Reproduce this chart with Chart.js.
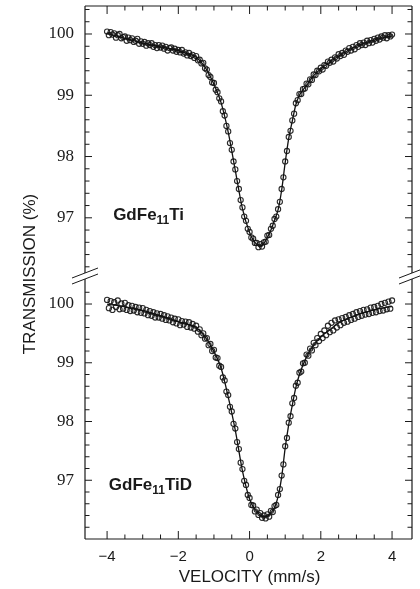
<!DOCTYPE html>
<html><head><meta charset="utf-8">
<script src="https://cdn.jsdelivr.net/npm/chart.js@4.4.1/dist/chart.umd.min.js"></script>
<style>html,body{margin:0;padding:0;background:#fff;}canvas{display:block;}</style>
</head><body>
<canvas id="c" width="420" height="589"></canvas>
<script>
// ---- data ----
const velocity = [
-4,-3.95,-3.9,-3.85,-3.8,-3.75,-3.7,-3.65,-3.6,-3.55,
-3.5,-3.45,-3.4,-3.35,-3.3,-3.25,-3.2,-3.15,-3.1,-3.05,
-3,-2.95,-2.9,-2.85,-2.8,-2.75,-2.7,-2.65,-2.6,-2.55,
-2.5,-2.45,-2.4,-2.35,-2.3,-2.25,-2.2,-2.15,-2.1,-2.05,
-2,-1.95,-1.9,-1.85,-1.8,-1.75,-1.7,-1.65,-1.6,-1.55,
-1.5,-1.45,-1.4,-1.35,-1.3,-1.25,-1.2,-1.15,-1.1,-1.05,
-1,-0.95,-0.9,-0.85,-0.8,-0.75,-0.7,-0.65,-0.6,-0.55,
-0.5,-0.45,-0.4,-0.35,-0.3,-0.25,-0.2,-0.15,-0.1,-0.05,
0,0.05,0.1,0.15,0.2,0.25,0.3,0.35,0.4,0.45,
0.5,0.55,0.6,0.65,0.7,0.75,0.8,0.85,0.9,0.95,
1,1.05,1.1,1.15,1.2,1.25,1.3,1.35,1.4,1.45,
1.5,1.55,1.6,1.65,1.7,1.75,1.8,1.85,1.9,1.95,
2,2.05,2.1,2.15,2.2,2.25,2.3,2.35,2.4,2.45,
2.5,2.55,2.6,2.65,2.7,2.75,2.8,2.85,2.9,2.95,
3,3.05,3.1,3.15,3.2,3.25,3.3,3.35,3.4,3.45,
3.5,3.55,3.6,3.65,3.7,3.75,3.8,3.85,3.9,3.95,4];

const tiTransmission = [
100.04,99.98,100.03,99.99,100.01,99.94,99.98,100.00,99.93,99.95,
99.96,99.89,99.94,99.90,99.93,99.87,99.89,99.92,99.84,99.88,
99.84,99.87,99.81,99.85,99.82,99.85,99.79,99.82,99.77,99.82,
99.78,99.81,99.76,99.79,99.73,99.77,99.78,99.73,99.76,99.71,
99.74,99.70,99.74,99.68,99.70,99.65,99.69,99.64,99.66,99.61,
99.64,99.57,99.58,99.52,99.53,99.44,99.42,99.33,99.30,99.21,
99.20,99.09,99.05,98.95,98.90,98.74,98.67,98.50,98.41,98.22,
98.11,97.92,97.79,97.60,97.47,97.29,97.17,97.02,96.95,96.82,
96.77,96.68,96.66,96.59,96.59,96.52,96.57,96.53,96.60,96.61,
96.71,96.72,96.82,96.87,96.98,97.02,97.14,97.26,97.47,97.66,
97.92,98.09,98.32,98.42,98.59,98.70,98.87,98.92,99.02,99.02,
99.10,99.11,99.19,99.18,99.26,99.25,99.34,99.33,99.40,99.39,
99.45,99.42,99.49,99.48,99.55,99.53,99.58,99.55,99.62,99.60,
99.67,99.64,99.69,99.66,99.73,99.71,99.77,99.73,99.79,99.75,
99.82,99.79,99.85,99.82,99.86,99.82,99.89,99.85,99.90,99.86,
99.92,99.89,99.94,99.91,99.96,99.94,99.98,99.93,99.98,99.96,99.99];

const tidTransmission = [
100.07,99.93,100.05,99.90,100.03,99.95,100.06,99.91,100.01,99.92,
100.02,99.90,99.98,99.88,99.97,99.89,99.95,99.86,99.94,99.85,
99.93,99.84,99.90,99.81,99.88,99.80,99.86,99.77,99.84,99.77,
99.83,99.75,99.81,99.73,99.79,99.72,99.77,99.69,99.75,99.67,
99.74,99.64,99.71,99.65,99.70,99.61,99.69,99.60,99.66,99.58,
99.63,99.53,99.57,99.47,99.50,99.41,99.42,99.30,99.32,99.20,
99.22,99.09,99.08,98.95,98.93,98.75,98.70,98.51,98.45,98.25,
98.17,97.96,97.88,97.65,97.53,97.30,97.19,96.99,96.92,96.75,
96.70,96.58,96.57,96.47,96.50,96.41,96.44,96.36,96.40,96.35,
96.42,96.38,96.48,96.46,96.56,96.58,96.75,96.85,97.08,97.27,
97.58,97.72,97.98,98.09,98.31,98.40,98.61,98.66,98.83,98.85,
98.99,99.00,99.14,99.12,99.24,99.21,99.34,99.30,99.42,99.37,
99.49,99.42,99.55,99.47,99.63,99.52,99.68,99.55,99.72,99.60,
99.74,99.64,99.76,99.68,99.78,99.70,99.81,99.73,99.83,99.75,
99.86,99.78,99.88,99.80,99.90,99.82,99.91,99.83,99.94,99.85,
99.95,99.86,99.97,99.88,100.00,99.89,100.02,99.91,100.04,99.92,100.06];

const fitVelocity = [-4,-3.5,-3,-2.5,-2,-1.75,-1.5,-1.25,-1,-0.8,-0.6,-0.4,-0.2,0,0.1,0.2,0.3,0.4,0.5,0.6,0.7,0.8,0.9,1,1.1,1.2,1.3,1.4,1.6,1.8,2,2.25,2.5,3,3.5,4];
const tiFit  = [100.01,99.93,99.85,99.79,99.73,99.68,99.62,99.46,99.18,98.88,98.40,97.77,97.15,96.76,96.64,96.57,96.54,96.58,96.68,96.80,96.96,97.13,97.45,97.90,98.30,98.58,98.85,99.00,99.16,99.32,99.43,99.54,99.64,99.80,99.90,99.97];
const tidFit = [100.00,99.95,99.89,99.80,99.70,99.66,99.60,99.44,99.19,98.91,98.42,97.85,97.16,96.68,96.55,96.47,96.41,96.38,96.39,96.45,96.53,96.72,97.05,97.55,97.95,98.28,98.58,98.80,99.10,99.30,99.44,99.56,99.68,99.81,99.90,99.96];

const xTickValues = [-4,-2,0,2,4];
const yTickValues = [97,98,99,100];
const panelNames = [['GdFe','11','Ti'],['GdFe','11','TiD']];
const xTitle = 'VELOCITY (mm/s)';
const yTitle = 'TRANSMISSION (%)';

// ---- drawing ----
const pts = (xs, ys) => xs.map((v, i) => ({x: v, y: ys[i]}));
const pointStyle = {
  showLine: false, pointRadius: 2.6, pointBorderWidth: 1.1,
  pointBorderColor: 'rgba(20,20,20,0.9)', pointBackgroundColor: 'rgba(255,255,255,0)'
};
const lineStyle = {
  showLine: true, pointRadius: 0, borderColor: '#111', borderWidth: 1.3,
  cubicInterpolationMode: 'monotone', fill: false
};

const framePlugin = {
  id: 'frame',
  afterDatasetsDraw(chart) {
    const {ctx, chartArea: ca, scales} = chart;
    const xs = scales.x, yt = scales.yTop, yb = scales.yBot;
    const top = ca.top, bot = ca.bottom, L = ca.left, R = ca.right;
    const mid = yt.bottom;
    ctx.save();
    ctx.strokeStyle = '#1a1a1a';
    ctx.lineWidth = 1.2;
    ctx.beginPath();
    ctx.moveTo(L, top); ctx.lineTo(R, top);
    ctx.moveTo(L, bot); ctx.lineTo(R, bot);
    for (const X of [L, R]) {
      ctx.moveTo(X, top); ctx.lineTo(X, mid - 3);
      ctx.moveTo(X, mid + 3); ctx.lineTo(X, bot);
    }
    ctx.stroke();
    // break marks
    ctx.lineWidth = 1;
    ctx.beginPath();
    for (const X of [L, R]) {
      for (const d of [-3, 3]) {
        ctx.moveTo(X - 13, mid + d + 5); ctx.lineTo(X + 13, mid + d - 5);
      }
    }
    ctx.stroke();
    // y ticks (inward, both sides)
    ctx.beginPath();
    for (const s of [yt, yb]) {
      for (let k = Math.ceil(s.min * 5); k <= Math.floor(s.max * 5); k++) {
        const py = s.getPixelForValue(k / 5);
        if (Math.abs(py - mid) < 7 || py < top + 3 || py > bot - 3) continue;
        const len = (k % 5 === 0) ? 7 : 4.5;
        ctx.moveTo(L, py); ctx.lineTo(L + len, py);
        ctx.moveTo(R, py); ctx.lineTo(R - len, py);
      }
    }
    // x ticks (inward, top and bottom)
    for (let k = -8; k <= 8; k++) {
      const px = xs.getPixelForValue(k / 2);
      const len = (k % 4 === 0) ? 8 : 4.5;
      ctx.moveTo(px, bot); ctx.lineTo(px, bot - len);
      ctx.moveTo(px, top); ctx.lineTo(px, top + len);
    }
    ctx.stroke();
    // axis titles
    ctx.fillStyle = '#1a1a1a';
    ctx.font = '17px "Liberation Sans", Arial, sans-serif';
    ctx.textAlign = 'center';
    ctx.textBaseline = 'middle';
    ctx.fillText(xTitle, xs.getPixelForValue(0), 577);
    ctx.save();
    ctx.translate(30, 274);
    ctx.rotate(-Math.PI / 2);
    ctx.fillText(yTitle, 0, 0);
    ctx.restore();
    // panel labels
    const drawName = (parts, x, y) => {
      ctx.textAlign = 'left';
      ctx.textBaseline = 'alphabetic';
      ctx.font = 'bold 17px "Liberation Sans", Arial, sans-serif';
      ctx.fillText(parts[0], x, y);
      x += ctx.measureText(parts[0]).width;
      ctx.font = 'bold 12px "Liberation Sans", Arial, sans-serif';
      ctx.fillText(parts[1], x, y + 4);
      x += ctx.measureText(parts[1]).width;
      ctx.font = 'bold 17px "Liberation Sans", Arial, sans-serif';
      ctx.fillText(parts[2], x, y);
    };
    drawName(panelNames[0], xs.getPixelForValue(-3.83), yt.getPixelForValue(96.97));
    drawName(panelNames[1], xs.getPixelForValue(-3.95), yb.getPixelForValue(96.83));
    ctx.restore();
  }
};

const yScale = (min, max, weight, stackWeight) => ({
  type: 'linear', position: 'left', stack: 'panels', stackWeight, weight,
  min, max,
  grid: {display: false, drawTicks: false},
  border: {display: false},
  afterBuildTicks: s => { s.ticks = yTickValues.map(v => ({value: v})); },
  afterFit: s => { s.width = 85; s.paddingTop = 0; s.paddingBottom = 0; },
  ticks: {
    padding: 11, color: '#1a1a1a',
    font: {family: '"Liberation Serif", "Times New Roman", serif', size: 17},
    callback: v => String(v)
  }
});

new Chart(document.getElementById('c'), {
  type: 'scatter',
  data: {
    datasets: [
      Object.assign({label: 'GdFe11Ti', data: pts(velocity, tiTransmission), yAxisID: 'yTop'}, pointStyle),
      Object.assign({label: 'GdFe11Ti fit', data: pts(fitVelocity, tiFit), yAxisID: 'yTop'}, lineStyle),
      Object.assign({label: 'GdFe11TiD', data: pts(velocity, tidTransmission), yAxisID: 'yBot'}, pointStyle),
      Object.assign({label: 'GdFe11TiD fit', data: pts(fitVelocity, tidFit), yAxisID: 'yBot'}, lineStyle)
    ]
  },
  options: {
    responsive: false, animation: false, devicePixelRatio: 1,
    layout: {padding: {top: 6, right: 8, left: 0, bottom: 0}},
    plugins: {legend: {display: false}, tooltip: {enabled: false}},
    scales: {
      x: {
        type: 'linear', position: 'bottom', min: -4.62, max: 4.56,
        grid: {display: false, drawTicks: false},
        border: {display: false},
        afterBuildTicks: s => { s.ticks = xTickValues.map(v => ({value: v})); },
        afterFit: s => { s.height = 50; s.paddingLeft = 0; s.paddingRight = 0; },
        ticks: {
          padding: 9, color: '#1a1a1a', maxRotation: 0,
          font: {family: '"Liberation Sans", Arial, sans-serif', size: 15},
          callback: v => (v < 0 ? '\u2212' + Math.abs(v) : String(v))
        }
      },
      yBot: yScale(96.0, 100.477, 0, 263),
      yTop: yScale(96.05, 100.457, 1, 270)
    }
  },
  plugins: [framePlugin]
});
</script>
</body></html>
